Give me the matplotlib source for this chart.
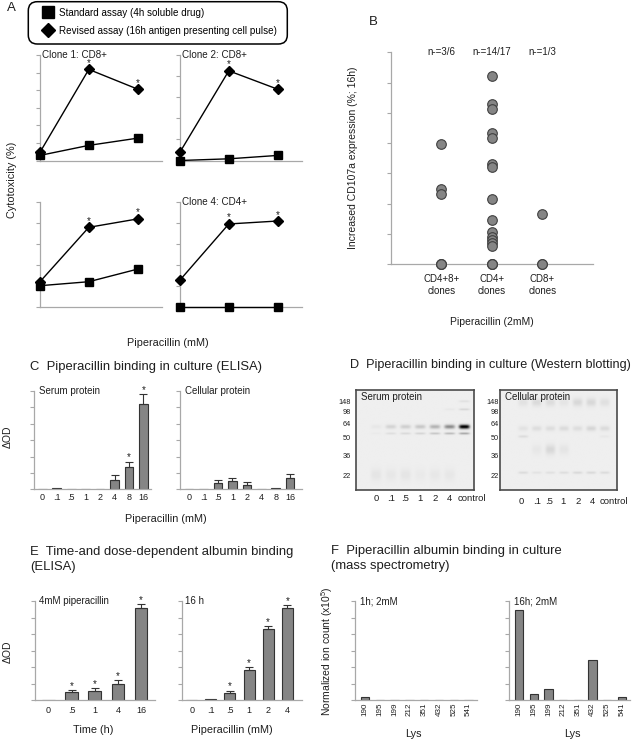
import matplotlib
matplotlib.use('Agg')
import matplotlib.pyplot as plt
import numpy as np
from matplotlib.lines import Line2D
from matplotlib.patches import FancyBboxPatch
from matplotlib.transforms import IdentityTransform

plt.rcParams['font.family'] = ['Liberation Sans', 'DejaVu Sans']
plt.rcParams['mathtext.fontset'] = 'custom'
plt.rcParams['mathtext.rm'] = 'Liberation Sans'
plt.rcParams['mathtext.it'] = 'Liberation Sans:italic'

# ---------------- data ----------------
# Panel A: cytotoxicity (%) at three piperacillin concentrations
clone_titles = ["Clone 1: CD8+", "Clone 2: CD8+", "", "Clone 4: CD4+"]
clone_ymax = [60, 50, 50, 50]
standard_assay = [[2.9, 8.6, 12.7], [0.0, 0.8, 2.4], [10.0, 11.9, 17.9], [0.0, 0.0, 0.0]]
revised_assay = [[4.7, 51.8, 40.6], [4.0, 42.5, 33.8], [11.9, 37.8, 41.8], [12.7, 39.4, 40.8]]
revised_sig = [False, True, True]
legend_labels = ['Standard assay (4h soluble drug)',
                 'Revised assay (16h antigen presenting cell pulse)']

# Panel B: increased CD107a expression (%)
b_groups = ["CD4+8+\nclones", "CD4+\nclones", "CD8+\nclones"]
b_nlabels = ["n-=3/6", "n-=14/17", "n-=1/3"]
b_cd48 = [3.98, 2.48, 2.33, 0, 0, 0]
b_cd4 = [6.22, 5.28, 5.12, 4.34, 4.16, 3.30, 3.20, 2.15, 1.46, 1.08, 0.90, 0.80, 0.70, 0.60, 0, 0, 0]
b_cd8 = [1.66, 0, 0]

# Panel C: ELISA dOD
c_doses = ['0', '.1', '.5', '1', '2', '4', '8', '16']
c_serum = [0, 0.10, 0, 0, 0, 0.55, 1.35, 5.18]
c_serum_err = [0, 0, 0, 0, 0, 0.35, 0.34, 0.65]
c_serum_sig = [False, False, False, False, False, False, True, True]
c_cell = [0, 0, 0.40, 0.48, 0.26, 0, 0.10, 0.66]
c_cell_err = [0, 0, 0.18, 0.18, 0.16, 0, 0, 0.26]
c_cell_sig = [False] * 8

# Panel D: western blot lanes / ladder / band intensities
d_lanes = ['0', '.1', '.5', '1', '2', '4', 'control']
d_ladder = ['148', '98', '64', '50', '36', '22']
d_ladder_mig = [0.11, 0.21, 0.337, 0.477, 0.657, 0.857]
d_serum_bands = [  # (relative migration, band thickness, intensity per lane)
    (0.373, 0.020, [0.03, 0.11, 0.13, 0.16, 0.24, 0.40, 1.00]),
    (0.440, 0.010, [0.02, 0.07, 0.09, 0.11, 0.17, 0.22, 0.30]),
    (0.200, 0.010, [0.00, 0.00, 0.00, 0.00, 0.00, 0.03, 0.10]),
    (0.120, 0.010, [0.00, 0.00, 0.00, 0.00, 0.00, 0.00, 0.06]),
    (0.850, 0.060, [0.04, 0.03, 0.04, 0.02, 0.03, 0.03, 0.00]),
]
d_cell_bands = [
    (0.830, 0.012, [0.08, 0.05, 0.06, 0.07, 0.09, 0.09, 0.08]),
    (0.390, 0.025, [0.05, 0.07, 0.07, 0.08, 0.07, 0.10, 0.08]),
    (0.130, 0.040, [0.05, 0.08, 0.07, 0.04, 0.09, 0.09, 0.06]),
    (0.470, 0.012, [0.08, 0.00, 0.00, 0.00, 0.00, 0.00, 0.03]),
    (0.600, 0.050, [0.00, 0.03, 0.09, 0.04, 0.00, 0.00, 0.00]),
]

# Panel E: time- and dose-dependent albumin binding
e_times = ['0', '.5', '1', '4', '16']
e_time_od = [0, 0.46, 0.55, 1.00, 5.60]
e_time_err = [0, 0.14, 0.15, 0.20, 0.20]
e_time_sig = [False, True, True, True, True]
e_doses = ['0', '.1', '.5', '1', '2', '4']
e_dose_od = [0, 0.06, 0.42, 1.82, 4.30, 5.56]
e_dose_err = [0, 0, 0.15, 0.16, 0.16, 0.18]
e_dose_sig = [False, False, True, True, True, True]

# Panel F: mass spectrometry
f_lys = ['190', '195', '199', '212', '351', '432', '525', '541']
f_1h = [0.16, 0, 0, 0, 0, 0, 0, 0]
f_16h = [5.46, 0.38, 0.66, 0, 0, 2.44, 0, 0.18]

# ---------------- style ----------------
W, H = 638, 741
fig = plt.figure(figsize=(W / 100, H / 100), dpi=100)
TXT = '#1e1e1e'
SP = '#a8a8a8'
BAR = '#858585'
EDGE = '#333333'


def add_ax(l, t, r, b):
    return fig.add_axes([l / W, 1 - b / H, (r - l) / W, (b - t) / H])


def ftext(x, y, s, **kw):
    kw.setdefault('color', TXT)
    return fig.text(x / W, 1 - y / H, s, **kw)


def base(ax, ymax, nint):
    for s in ['top', 'right']:
        ax.spines[s].set_visible(False)
    for s in ['left', 'bottom']:
        ax.spines[s].set_color(SP)
        ax.spines[s].set_linewidth(0.9)
    ax.set_ylim(0, ymax)
    ax.set_yticks(np.linspace(0, ymax, nint + 1))
    ax.set_yticklabels([])
    ax.tick_params(axis='y', length=3, width=0.8, color=SP)
    ax.tick_params(axis='x', length=0, labelsize=6.5, labelcolor=TXT)
    ax.patch.set_alpha(0)


def bars(ax, cats, mean, err, sig, xlim, width, ymax=6, pad=2.5):
    base(ax, ymax, 6)
    x = np.arange(len(cats))
    m = np.array(mean, float)
    e = np.array(err, float)
    ax.bar(x, m, width=width, color=BAR, edgecolor=EDGE, linewidth=0.8, zorder=2)
    k = e > 0
    if k.any():
        ax.errorbar(x[k], m[k], yerr=[np.zeros(k.sum()), e[k]], fmt='none',
                    ecolor=EDGE, elinewidth=0.8, capsize=3.2, capthick=0.8, zorder=3)
    for xi, mi, ei, si in zip(x, m, e, sig):
        if si:
            ax.annotate('*', (xi, mi + ei), xytext=(0, 3), textcoords='offset points',
                        ha='center', va='center', fontsize=7, color=TXT, annotation_clip=False)
    ax.set_xticks(x)
    ax.set_xticklabels(cats)
    ax.set_xlim(*xlim)
    ax.tick_params(axis='x', pad=pad)


# ---------------- Panel A ----------------
ftext(11, 8, 'A', fontsize=9.5, ha='center', va='center')
a_boxes = [(40, 55, 162, 160.5), (180, 55, 302, 160.5), (40, 201.7, 162, 306.7), (180, 201.7, 302, 306.7)]
for i, bx in enumerate(a_boxes):
    ax = add_ax(*bx)
    base(ax, clone_ymax[i], clone_ymax[i] // 10)
    ax.set_xticks([])
    ax.set_xlim(0, 2.5)
    xs = np.arange(3)
    ax.plot(xs, standard_assay[i], color='black', lw=1.0, marker='s', ms=5.6, clip_on=False, zorder=3)
    ax.plot(xs, revised_assay[i], color='black', lw=1.0, marker='D', ms=4.8, clip_on=False, zorder=4)
    for xi, yi, si in zip(xs, revised_assay[i], revised_sig):
        if si:
            ax.annotate('*', (xi, yi), xytext=(0, 4.6), textcoords='offset points',
                        ha='center', va='center', fontsize=7, color=TXT)
    if clone_titles[i]:
        ax.text(0.02, 1.0, clone_titles[i], transform=ax.transAxes, fontsize=7.1,
                ha='left', va='center', color=TXT)

# legend: rounded frame drawn in pixel space, entries via fig.legend
frame = FancyBboxPatch((28.3, H - 44.0), 259.0, 42.3,
                       boxstyle='round,pad=0,rounding_size=9', transform=IdentityTransform(),
                       facecolor='white', edgecolor='black', linewidth=1.1)
fig.patches.append(frame)
handles = [Line2D([], [], ls='none', marker='s', ms=8.4, color='black'),
           Line2D([], [], ls='none', marker='D', ms=7.6, color='black')]
leg = fig.legend(handles, legend_labels, loc='upper left',
                 bbox_to_anchor=(39 / W, 1 - 7.5 / H), borderaxespad=0, borderpad=0,
                 frameon=False, fontsize=7.1, handlelength=1.75, handletextpad=0.25,
                 labelspacing=0.82)
ftext(12, 180, 'Cytotoxicity (%)', fontsize=7.8, rotation=90, ha='center', va='center')
ftext(168, 343, 'Piperacillin (mM)', fontsize=7.8, ha='center', va='center')

# ---------------- Panel B ----------------
ftext(373, 22, 'B', fontsize=9.5, ha='center', va='center')
axb = add_ax(390.7, 52.3, 593, 264.3)
base(axb, 7, 7)
axb.set_xlim(0, 4)
for xi, vals in zip([1, 2, 3], [b_cd48, b_cd4, b_cd8]):
    axb.scatter([xi] * len(vals), vals, s=48, color='#858585', edgecolor='#404040',
                linewidth=0.8, clip_on=False, zorder=3)
axb.set_xticks([1, 2, 3])
axb.set_xticklabels(b_groups, fontsize=7, linespacing=1.3)
axb.tick_params(axis='x', pad=7)
for xi, s in zip([1, 2, 3], b_nlabels):
    axb.text(xi, 7, s, ha='center', va='center', fontsize=7, color=TXT)
ftext(353, 158, 'Increased CD107a expression (%; 16h)', fontsize=7.5, rotation=90,
      ha='center', va='center')
ftext(492, 322, 'Piperacillin (2mM)', fontsize=7.5, ha='center', va='center')

# ---------------- Panel C ----------------
ftext(30, 367, 'C  Piperacillin binding in culture (ELISA)', fontsize=9.4, ha='left', va='center')
axc1 = add_ax(34.3, 391, 150.7, 489.3)
bars(axc1, c_doses, c_serum, c_serum_err, c_serum_sig, (-0.55, 7.5), 0.6)
axc1.text(0.04, 1.0, 'Serum protein', transform=axc1.transAxes, fontsize=7,
          ha='left', va='center', color=TXT)
axc2 = add_ax(180, 391, 301.7, 489.3)
bars(axc2, c_doses, c_cell, c_cell_err, c_cell_sig, (-0.63, 7.8), 0.6)
axc2.text(0.04, 1.0, 'Cellular protein', transform=axc2.transAxes, fontsize=7,
          ha='left', va='center', color=TXT)
ftext(8, 437, '\u0394OD', fontsize=7.5, rotation=90, ha='center', va='center')
ftext(166, 519, 'Piperacillin (mM)', fontsize=7.8, ha='center', va='center')

# ---------------- Panel D ----------------
ftext(350.5, 365, 'D  Piperacillin binding in culture (Western blotting)', fontsize=9.05,
      ha='left', va='center')


def blot(ax, bands, xlim, label_x, title, ypad, xpad):
    xs = np.linspace(xlim[0], xlim[1], 240)
    ys = np.linspace(0, 1, 200)
    X, Y = np.meshgrid(xs, ys)
    img = np.full_like(X, 0.065)
    for ypos, wy, amps in bands:
        for lane, a in enumerate(amps):
            img += a * np.exp(-((X - lane) / 0.36) ** 4 - ((Y - ypos) / wy) ** 2)
    ax.imshow(np.clip(img, 0, 1), cmap='gray_r', vmin=0, vmax=1,
              extent=[xlim[0], xlim[1], 1, 0], aspect='auto', interpolation='bilinear')
    ax.set_xlim(*xlim)
    ax.set_ylim(1, 0)
    ax.set_xticks(label_x)
    ax.set_xticklabels(d_lanes, fontsize=6.8, color=TXT)
    ax.set_yticks(d_ladder_mig)
    ax.set_yticklabels(d_ladder, fontsize=5.3, color=TXT)
    ax.tick_params(axis='both', length=0)
    ax.tick_params(axis='x', pad=xpad)
    ax.tick_params(axis='y', pad=ypad)
    for s in ax.spines.values():
        s.set_color('#4a4a4a')
        s.set_linewidth(1.2)
    ax.text(0.04, 0.93, title, transform=ax.transAxes, fontsize=7, ha='left',
            va='center', color=TXT)


axd1 = add_ax(356, 390, 474, 490)
blot(axd1, d_serum_bands, (-1.36, 6.64), [0, 1, 2, 3, 4, 5, 6.5], 'Serum protein', 3.5, 3.0)
axd2 = add_ax(500, 390, 617, 490)
blot(axd2, d_cell_bands, (-1.69, 6.88), [-0.13, 0.99, 1.92, 2.95, 4.02, 5.05, 6.66],
     'Cellular protein', 0.6, 5.0)

# ---------------- Panel E ----------------
ftext(30, 552, 'E  Time-and dose-dependent albumin binding', fontsize=9.4, ha='left', va='center')
ftext(30, 567, '(ELISA)', fontsize=9.4, ha='left', va='center')
axe1 = add_ax(35, 601, 155, 700)
bars(axe1, e_times, e_time_od, e_time_err, e_time_sig, (-0.58, 4.6), 0.55, pad=4)
axe1.text(0.03, 1.0, '4mM piperacillin', transform=axe1.transAxes, fontsize=7,
          ha='left', va='center', color=TXT)
axe2 = add_ax(181.7, 601, 301.7, 700)
bars(axe2, e_doses, e_dose_od, e_dose_err, e_dose_sig, (-0.52, 5.75), 0.58, pad=4)
axe2.text(0.03, 1.0, '16 h', transform=axe2.transAxes, fontsize=7,
          ha='left', va='center', color=TXT)
ftext(8, 652, '\u0394OD', fontsize=7.5, rotation=90, ha='center', va='center')
ftext(93, 730, 'Time (h)', fontsize=7.8, ha='center', va='center')
ftext(232, 730, 'Piperacillin (mM)', fontsize=7.8, ha='center', va='center')

# ---------------- Panel F ----------------
ftext(330.7, 551, 'F  Piperacillin albumin binding in culture', fontsize=9.4, ha='left', va='center')
ftext(330.7, 566, '(mass spectrometry)', fontsize=9.4, ha='left', va='center')
axf1 = add_ax(355, 601, 476.7, 700)
bars(axf1, f_lys, f_1h, [0] * 8, [False] * 8, (-0.68, 7.55), 0.56, pad=2)
axf1.text(0.04, 1.0, '1h; 2mM', transform=axf1.transAxes, fontsize=7,
          ha='left', va='center', color=TXT)
axf2 = add_ax(509.3, 601, 630, 700)
bars(axf2, f_lys, f_16h, [0] * 8, [False] * 8, (-0.68, 7.55), 0.56, pad=2)
axf2.text(0.04, 1.0, '16h; 2mM', transform=axf2.transAxes, fontsize=7,
          ha='left', va='center', color=TXT)
for a in (axf1, axf2):
    for lab in a.get_xticklabels():
        lab.set_rotation(90)
        lab.set_fontsize(5.8)
ftext(327, 651, 'Normalized ion count (x10$^5$)', fontsize=7.5, rotation=90,
      ha='center', va='center')
ftext(413, 734, 'Lys', fontsize=7.8, ha='center', va='center')
ftext(572, 734, 'Lys', fontsize=7.8, ha='center', va='center')

fig.savefig('out.png', dpi=100)
